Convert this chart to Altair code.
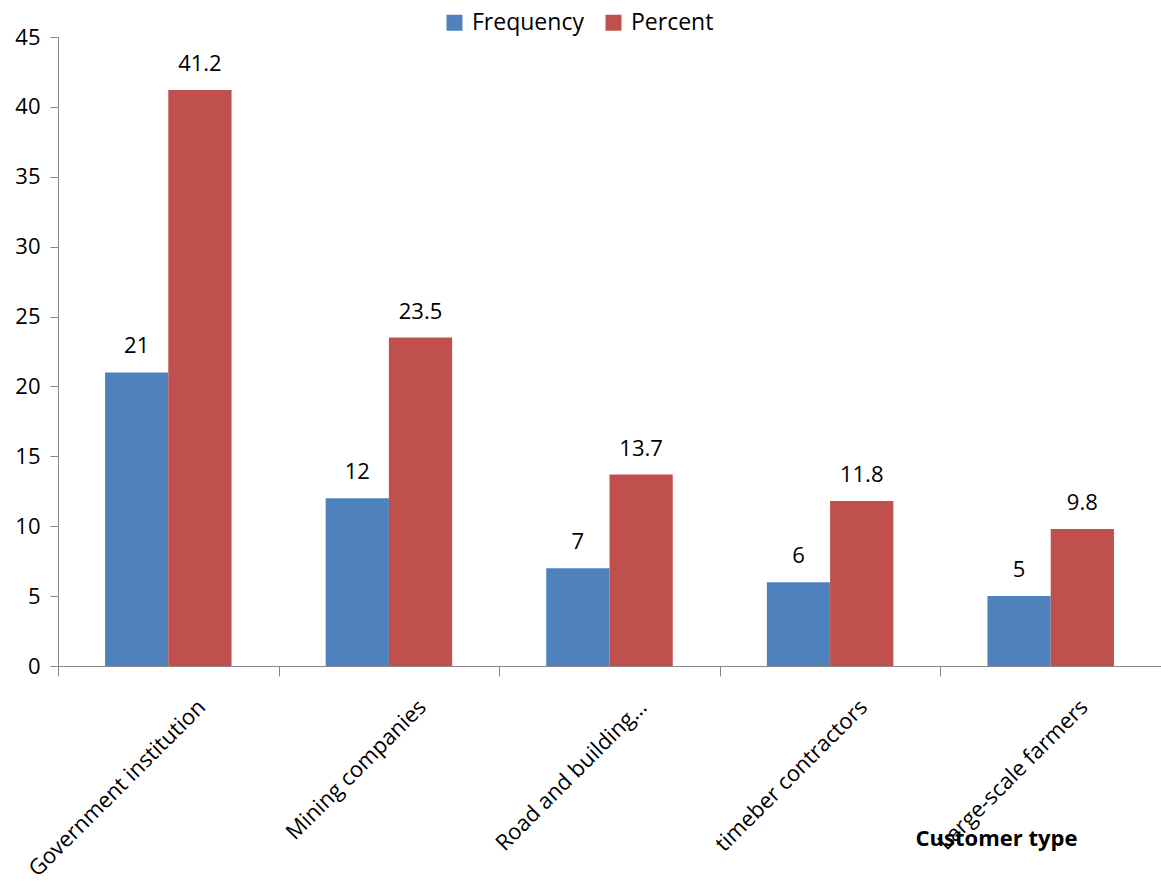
import altair as alt
import pandas as pd

categories = ["Government institution", "Mining companies", "Road and building…",
              "timeber contractors", "Large-scale farmers"]
frequency = [21, 12, 7, 6, 5]
percent = [41.2, 23.5, 13.7, 11.8, 9.8]
series = ["Frequency", "Percent"]
colors = ["#4F81BD", "#C0504D"]

rows = []
for c, f, p in zip(categories, frequency, percent):
    rows.append({"cat": c, "series": "Frequency", "value": f, "label": f"{f}"})
    rows.append({"cat": c, "series": "Percent", "value": p, "label": f"{p:.1f}"})
df = pd.DataFrame(rows)

FONT = "Open Sans"

x = alt.X("cat:N", sort=categories, scale=alt.Scale(paddingInner=0, paddingOuter=0),
          axis=alt.Axis(title="Customer type", labelAngle=-45, labelAlign="right",
                        labelBaseline="top", labelFontSize=22, labelFont=FONT,
                        labelColor="#000", labelPadding=20, labelOffset=26,
                        tickBand="extent", tickSize=10, tickColor="#888", domainColor="#888",
                        titleFont=FONT, titleFontSize=22, titleFontWeight="bold",
                        titleColor="#000", titleX=938, titleY=172, titleAlign="center",
                        titleBaseline="middle", labelLimit=400))
xo = alt.XOffset("series:N", sort=series, scale=alt.Scale(paddingOuter=0.744, paddingInner=0))
y = alt.Y("value:Q", scale=alt.Scale(domain=[0, 45], nice=False),
          axis=alt.Axis(title=None, values=list(range(0, 50, 5)), grid=False,
                        labelFontSize=22, labelFont=FONT, labelColor="#000",
                        tickSize=8, tickColor="#888", domainColor="#888", labelPadding=10))

bars = alt.Chart(df).mark_bar().encode(
    x=x, xOffset=xo, y=y,
    color=alt.Color("series:N", sort=series, scale=alt.Scale(domain=series, range=colors),
                    legend=alt.Legend(title=None, orient="none", legendX=385, legendY=-26,
                                      direction="horizontal", symbolType="square",
                                      symbolSize=256, symbolStrokeWidth=0,
                                      labelFontSize=23, labelFont=FONT, labelColor="#000",
                                      columnPadding=18, labelOffset=6, padding=0)),
)
texts = alt.Chart(df).mark_text(baseline="bottom", dy=-14, fontSize=22, font=FONT, color="#000").encode(
    x=x, xOffset=xo, y=y, text="label:N"
)

chart = alt.layer(bars, texts).properties(
    width=1103, height=629,
    autosize=alt.AutoSizeParams(type="none"),
    padding={"left": 58, "top": 37, "right": 0, "bottom": 218},
).configure_view(stroke=None)

chart.save("out.html", embed_options={"renderer": "svg", "actions": False})
